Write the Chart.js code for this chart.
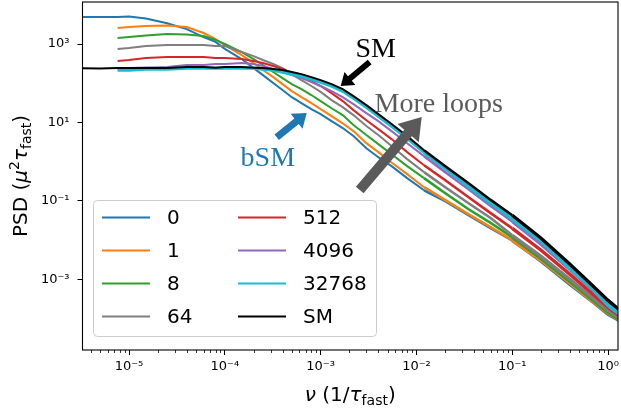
<!DOCTYPE html>
<html>
<head>
<meta charset="utf-8">
<script src="https://cdn.jsdelivr.net/npm/chart.js@4.4.1/dist/chart.umd.min.js"></script>
<style>
  html, body { margin: 0; padding: 0; background: #fff; }
  canvas { display: block; }
</style>
</head>
<body>
<canvas id="psd" width="621" height="416"></canvas>
<script>
// frequency grid (1/tau_fast)
const NU = [3e-6, 5e-6, 7.6e-6, 1e-5, 1.5e-5, 2.5e-5, 4e-5, 6e-5, 8e-5, 1e-4,
  1.5e-4, 2e-4, 2.5e-4, 3.2e-4, 4e-4, 5e-4, 6.3e-4, 8e-4, 1e-3, 1.3e-3,
  1.7e-3, 2.2e-3, 3e-3, 4e-3, 5.5e-3, 8e-3, 1.2e-2, 2e-2, 3.5e-2, 6e-2,
  0.1, 0.2, 0.4, 0.7, 1.0, 1.3];

// PSD per number of loops
const PSD_0 = [4.9e3, 4.9e3, 4.9e3, 5.0e3, 4.5e3, 3.4e3, 2.4e3, 1.5e3, 1.13e3, 750,
  414, 243, 161, 101, 67, 44, 31, 22, 16.3, 10.8,
  7.2, 4.5, 2.2, 1.3, 0.77, 0.38, 0.186, 0.098, 0.043, 0.020,
  9.8e-3, 2.9e-3, 7.4e-4, 2.6e-4, 1.27e-4, 9.0e-5];
const PSD_1 = [null, null, 2.56e3, 2.72e3, 2.88e3, 2.97e3, 2.72e3, 1.91e3, 1.34e3, 940,
  523, 327, 217, 143, 95, 63, 44, 31, 21.9, 14.5,
  9.5, 6.0, 2.96, 1.75, 0.95, 0.48, 0.223, 0.104, 0.0455, 0.0212,
  9.9e-3, 3.05e-3, 7.9e-4, 2.7e-4, 1.35e-4, 9.3e-5];
const PSD_8 = [null, null, 1.42e3, 1.51e3, 1.65e3, 1.80e3, 1.75e3, 1.60e3, 1.27e3, 1.0e3,
  624, 414, 292, 193, 135, 95, 71, 50, 35, 23,
  15.4, 8.6, 4.8, 2.8, 1.55, 0.77, 0.38, 0.156, 0.061, 0.027,
  0.0118, 3.4e-3, 8.8e-4, 2.9e-4, 1.43e-4, 9.6e-5];
const PSD_64 = [null, null, 750, 790, 890, 940, 940, 940, 890, 890,
  624, 493, 391, 309, 243, 171, 120, 85, 60, 37,
  24.6, 15.4, 8.1, 4.8, 2.5, 1.16, 0.54, 0.223, 0.087, 0.036,
  0.0132, 3.85e-3, 1.0e-3, 3.25e-4, 1.61e-4, 1.06e-4];
const PSD_512 = [null, null, 369, 391, 440, 466, 466, 466, 440, 440,
  414, 369, 327, 274, 230, 182, 143, 113, 85, 56,
  35, 20.6, 11.4, 6.75, 3.76, 1.75, 0.81, 0.336, 0.124, 0.048,
  0.0199, 5.5e-3, 1.33e-3, 4.1e-4, 1.92e-4, 1.2e-4];
const PSD_4096 = [null, null, 217, 230, 243, 258, 292, 292, 309, 309,
  327, 309, 274, 230, 193, 161, 135, 107, 85, 63,
  44, 29.4, 17.3, 10.8, 6.0, 2.96, 1.38, 0.538, 0.198, 0.073,
  0.030, 7.8e-3, 1.79e-3, 5.2e-4, 2.16e-4, 1.3e-4];
const PSD_32768 = [null, null, 217, 217, 230, 230, 243, 243, 243, 243,
  243, 243, 230, 217, 193, 171, 152, 128, 107, 85,
  63, 41.8, 24.6, 14.5, 8.1, 3.98, 1.75, 0.684, 0.237, 0.087,
  0.036, 9.8e-3, 2.0e-3, 5.85e-4, 2.28e-4, 1.4e-4];
const PSD_SM = [243, 236, 243, 243, 250, 243, 258, 258, 250, 258,
  258, 250, 243, 230, 217, 193, 171, 143, 120, 95,
  71, 47, 27.7, 16.3, 9.1, 4.48, 1.96, 0.765, 0.282, 0.104,
  0.043, 0.0111, 2.41e-3, 6.6e-4, 2.89e-4, 1.7e-4];

const LABELS = ['0', '1', '8', '64', '512', '4096', '32768', 'SM'];
const SERIES = [PSD_0, PSD_1, PSD_8, PSD_64, PSD_512, PSD_4096, PSD_32768, PSD_SM];
const COLORS = ['#1f77b4', '#ff7f0e', '#2ca02c', '#7f7f7f', '#d62728', '#9467bd', '#17becf', '#000000'];

const X_TICKS = [1e-5, 1e-4, 1e-3, 1e-2, 1e-1, 1e0];
const Y_TICKS = [1e-3, 1e-1, 1e1, 1e3];

// annotations, in data coordinates
const ARROWS = [
  { from: [3.25e-3, 347], to: [1.62e-3, 84.5], color: '#000000', w: 6, hw: 17, hl: 12 },
  { from: [3.48e-4, 4.21], to: [7.16e-4, 17.3], color: '#1f77b4', w: 7, hw: 19, hl: 13 },
  { from: [2.56e-3, 0.188], to: [1.135e-2, 13.7], color: '#5a5a5a', w: 10, hw: 28, hl: 21 }
];
const NOTES = [
  { text: 'SM', at: [3.76e-3, 466], color: '#000000' },
  { text: 'More loops', at: [1.71e-2, 18.3], color: '#5a5a5a' },
  { text: 'bSM', at: [2.81e-4, 0.769], color: '#1f77b4' }
];

const SUP = { '-': '\u207b', '0': '\u2070', '1': '\u00b9', '2': '\u00b2', '3': '\u00b3', '4': '\u2074',
  '5': '\u2075', '6': '\u2076', '7': '\u2077', '8': '\u2078', '9': '\u2079' };

function powLabel(v) {
  const e = String(Math.round(Math.log10(v)));
  return '10' + e.split('').map(c => SUP[c]).join('');
}

function drawRich(ctx, parts, x, y) {
  let total = 0;
  parts.forEach(p => { ctx.font = p.font; total += ctx.measureText(p.t).width; });
  let cx = x - total / 2;
  ctx.textAlign = 'left';
  ctx.textBaseline = 'alphabetic';
  parts.forEach(p => {
    ctx.font = p.font;
    ctx.fillText(p.t, cx, y + (p.dy || 0));
    cx += ctx.measureText(p.t).width;
  });
}

function drawArrow(ctx, x0, y0, x1, y1, w, hw, hl, color) {
  const ang = Math.atan2(y1 - y0, x1 - x0);
  const len = Math.hypot(x1 - x0, y1 - y0);
  ctx.save();
  ctx.translate(x0, y0);
  ctx.rotate(ang);
  ctx.beginPath();
  ctx.moveTo(0, -w / 2);
  ctx.lineTo(len - hl, -w / 2);
  ctx.lineTo(len - hl, -hw / 2);
  ctx.lineTo(len, 0);
  ctx.lineTo(len - hl, hw / 2);
  ctx.lineTo(len - hl, w / 2);
  ctx.lineTo(0, w / 2);
  ctx.closePath();
  ctx.fillStyle = color;
  ctx.fill();
  ctx.restore();
}

// noisy spectra look thicker at high frequency
function segWidth(extra) {
  return c => {
    const nu = c.p0.parsed.x;
    return (nu < 1e-2 ? 2 : nu < 1e-1 ? 2.6 : 3.4) + extra;
  };
}

const SANS = '"DejaVu Sans", sans-serif';
const IT = 'italic 20px ' + SANS;
const RG = '20px ' + SANS;
const SM_F = '14px ' + SANS;

const decorations = {
  id: 'decorations',
  afterDraw(chart) {
    const { ctx, chartArea: a, scales: { x, y } } = chart;
    ctx.save();

    // minor x ticks
    ctx.strokeStyle = '#000';
    ctx.lineWidth = 0.8;
    for (let e = -6; e <= 0; e++) {
      for (let m = 2; m <= 9; m++) {
        const v = m * Math.pow(10, e);
        if (v < x.min || v > x.max) continue;
        const px = Math.round(x.getPixelForValue(v)) + 0.5;
        ctx.beginPath();
        ctx.moveTo(px, a.bottom);
        ctx.lineTo(px, a.bottom + 3);
        ctx.stroke();
      }
    }

    // frame
    ctx.lineWidth = 1.1;
    ctx.strokeRect(a.left, a.top, a.right - a.left, a.bottom - a.top);

    // legend
    ctx.beginPath();
    ctx.roundRect(93.5, 200.5, 283, 136, 4);
    ctx.fillStyle = 'rgba(255,255,255,0.8)';
    ctx.fill();
    ctx.strokeStyle = '#cccccc';
    ctx.lineWidth = 1;
    ctx.stroke();
    ctx.font = RG;
    ctx.textBaseline = 'middle';
    ctx.textAlign = 'left';
    LABELS.forEach((lab, i) => {
      const col = Math.floor(i / 4), row = i % 4;
      const lx = 102 + col * 136, ly = 217.5 + row * 33;
      ctx.strokeStyle = COLORS[i];
      ctx.lineWidth = 2;
      ctx.beginPath();
      ctx.moveTo(lx, ly);
      ctx.lineTo(lx + 48, ly);
      ctx.stroke();
      ctx.fillStyle = '#000';
      ctx.fillText(lab, lx + 65, ly + 1);
    });

    // axis titles
    ctx.fillStyle = '#000';
    drawRich(ctx, [
      { t: '\u03bd', font: IT },
      { t: ' (1/', font: RG },
      { t: '\u03c4', font: IT },
      { t: 'fast', font: SM_F, dy: 4 },
      { t: ')', font: RG }
    ], (a.left + a.right) / 2, 401);

    ctx.save();
    ctx.translate(27, (a.top + a.bottom) / 2);
    ctx.rotate(-Math.PI / 2);
    drawRich(ctx, [
      { t: 'PSD (', font: RG },
      { t: '\u03bc', font: IT },
      { t: '2', font: SM_F, dy: -8 },
      { t: '\u03c4', font: IT },
      { t: 'fast', font: SM_F, dy: 4 },
      { t: ')', font: RG }
    ], 0, 0);
    ctx.restore();

    // annotations
    ctx.save();
    ctx.beginPath();
    ctx.rect(a.left, a.top, a.right - a.left, a.bottom - a.top);
    ctx.clip();
    ARROWS.forEach(ar => {
      drawArrow(ctx,
        x.getPixelForValue(ar.from[0]), y.getPixelForValue(ar.from[1]),
        x.getPixelForValue(ar.to[0]), y.getPixelForValue(ar.to[1]),
        ar.w, ar.hw, ar.hl, ar.color);
    });
    ctx.font = '28px "Liberation Serif", serif';
    ctx.textAlign = 'center';
    ctx.textBaseline = 'alphabetic';
    NOTES.forEach(n => {
      ctx.fillStyle = n.color;
      ctx.fillText(n.text, x.getPixelForValue(n.at[0]), y.getPixelForValue(n.at[1]));
    });
    ctx.restore();

    ctx.restore();
  }
};

const tickFont = { family: SANS, size: 13 };

new Chart(document.getElementById('psd'), {
  type: 'line',
  data: {
    datasets: SERIES.map((s, i) => ({
      label:       LABELS[i],
      data:        NU.map((nu, j) => ({ x: nu, y: s[j] })),
      borderColor: COLORS[i],
      borderWidth: 2,
      segment:     { borderWidth: segWidth(i === 6 ? 1.4 : 0) },
      pointRadius: 0,
      tension:     0,
      fill:        false,
      order:       SERIES.length - i
    }))
  },
  options: {
    responsive: false,
    animation: false,
    devicePixelRatio: 1,
    layout: { padding: { top: 2, right: 3, left: 0, bottom: 0 } },
    plugins: {
      legend:  { display: false },
      tooltip: { enabled: false }
    },
    scales: {
      x: {
        type: 'logarithmic',
        min: 3.27e-6,
        max: 1.27,
        afterBuildTicks: s => { s.ticks = X_TICKS.map(v => ({ value: v })); },
        afterFit: s => { s.height = 66; s.paddingLeft = 0; s.paddingRight = 0; },
        border: { display: false },
        grid: { drawOnChartArea: false, drawTicks: true, tickLength: 5, tickColor: '#000', tickWidth: 1 },
        ticks: { font: tickFont, color: '#000', padding: 4, maxRotation: 0, autoSkip: false, callback: v => powLabel(v) }
      },
      y: {
        type: 'logarithmic',
        min: 1.57e-5,
        max: 1.18e4,
        afterBuildTicks: s => { s.ticks = Y_TICKS.map(v => ({ value: v })); },
        afterFit: s => { s.width = 82.5; s.paddingTop = 0; s.paddingBottom = 0; },
        border: { display: false },
        grid: { drawOnChartArea: false, drawTicks: true, tickLength: 5, tickColor: '#000', tickWidth: 1 },
        ticks: { font: tickFont, color: '#000', padding: 8, autoSkip: false, callback: v => powLabel(v) }
      }
    }
  },
  plugins: [decorations]
});
</script>
</body>
</html>
